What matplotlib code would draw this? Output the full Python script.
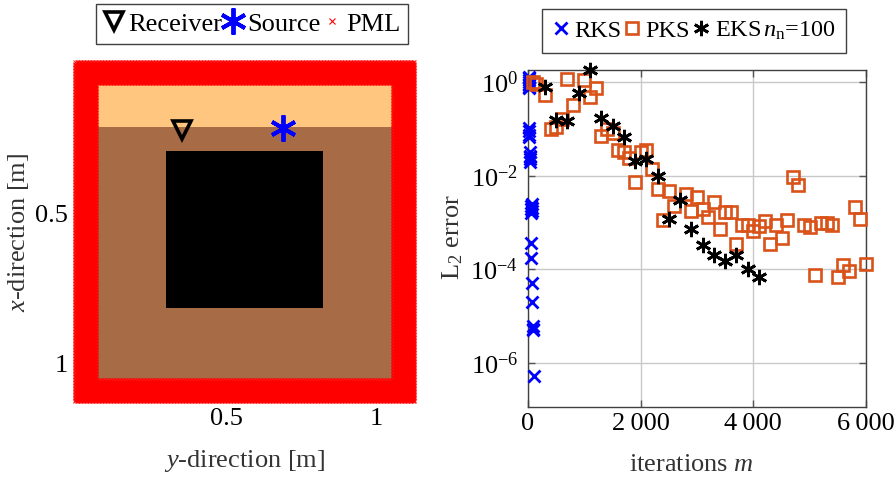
import numpy as np
import matplotlib
matplotlib.use('Agg')
import matplotlib.pyplot as plt
from matplotlib.patches import Rectangle
from matplotlib.lines import Line2D

plt.rcParams['font.family'] = ['Liberation Serif', 'DejaVu Serif']
plt.rcParams['mathtext.fontset'] = 'custom'
plt.rcParams['mathtext.rm'] = 'Liberation Serif'
plt.rcParams['mathtext.it'] = 'Liberation Serif:italic'
plt.rcParams['font.size'] = 19

# left panel geometry, in metres
outer_lo, outer_hi_x, outer_hi_y = -0.002, 1.131, 1.131
inner_x = [0.073, 1.057]
inner_y = [0.073, 1.053]
layer_depth = 0.213
scatterer_x = [0.30, 0.823]
scatterer_y = [0.293, 0.817]
receiver_yx = [0.353, 0.223]
source_yx = [0.69, 0.217]

# right panel data, values are log10 of the error
rks_m = [20, 20, 20, 20, 20, 20, 20, 20, 20, 20, 20, 20, 40, 40, 40, 40, 40,
         60, 60, 60, 70, 70, 70, 60, 60, 70, 70, 80, 80, 90, 100]
rks_log = [0.12, 0.08, 0.04, 0.0, -0.03, -0.06, -0.1, -0.13, -1.05, -1.12, -1.18, -0.98,
           -1.5, -1.6, -1.7, -1.57, -1.65, -2.65, -2.72, -2.8, -2.68, -2.75, -2.6,
           -3.43, -3.75, -4.3, -4.7, -5.2, -5.3, -5.27, -6.28]
pks_m = [80, 150, 300, 400, 500, 600, 700, 800, 1000, 1100, 1200, 1300, 1400, 1500, 1600,
         1700, 1800, 1900, 2000, 2100, 2200, 2300, 2400, 2500, 2600, 2800, 2900, 3000,
         3100, 3200, 3300, 3400, 3500, 3600, 3700, 3800, 3900, 4000, 4100, 4200, 4300,
         4400, 4500, 4600, 4700, 4800, 4900, 5000, 5100, 5200, 5300, 5400, 5500, 5600,
         5700, 5800, 5900, 6000]
pks_log = [0.0, -0.04, -0.28, -1.0, -0.95, -0.78, 0.06, -0.48, 0.05, -0.31, -0.13, -1.15,
           -1.0, -1.08, -1.44, -1.49, -1.61, -2.13, -1.49, -1.44, -1.85, -2.28, -2.95,
           -2.32, -2.65, -2.38, -2.75, -2.45, -2.72, -2.88, -2.55, -3.13, -2.78, -2.78,
           -3.46, -3.06, -3.06, -3.17, -3.08, -2.97, -3.45, -3.06, -3.32, -2.95, -2.03,
           -2.19, -3.06, -3.09, -4.12, -3.01, -3.01, -3.05, -4.17, -3.91, -4.03, -2.67,
           -2.92, -3.88]
eks_m = [300, 500, 700, 900, 1100, 1300, 1500, 1700, 1900, 2100, 2300, 2500, 2700, 2900,
         3100, 3300, 3500, 3700, 3900, 4100]
eks_log = [-0.11, -0.8, -0.83, -0.23, 0.25, -0.76, -0.93, -1.18, -1.69, -1.64, -2.01,
           -2.93, -2.52, -3.14, -3.47, -3.7, -3.83, -3.7, -4.0, -4.16]

x_ticks = [0, 2000, 4000, 6000]
x_tick_labels = ['0', '2\u2009000', '4\u2009000', '6\u2009000']
y_ticks = [1e0, 1e-2, 1e-4, 1e-6]

W, H = 896, 480
pks_color = '#D95319'
frame_color = '#404040'
label_color = '#333333'


def px_axes(fig, x0, y0, x1, y1):
    return fig.add_axes([x0 / W, 1 - y1 / H, (x1 - x0) / W, (y1 - y0) / H])


fig = plt.figure(figsize=(8.96, 4.8), dpi=100)

# geometry
ax1 = px_axes(fig, 60, 50, 430, 415)
ax1.set_xlim((60 - 76) / 300, (430 - 76) / 300)
ax1.set_ylim((415 - 63) / 300, (50 - 63) / 300)
ax1.add_patch(Rectangle((inner_x[0], inner_y[0]), inner_x[1] - inner_x[0], inner_y[1] - inner_y[0],
                        facecolor='#A76B45', edgecolor='none', zorder=1))
ax1.add_patch(Rectangle((inner_x[0], inner_y[0]), inner_x[1] - inner_x[0], layer_depth - inner_y[0],
                        facecolor='#FFC680', edgecolor='none', zorder=2))
ax1.add_patch(Rectangle((scatterer_x[0], scatterer_y[0]), scatterer_x[1] - scatterer_x[0],
                        scatterer_y[1] - scatterer_y[0], facecolor='black', edgecolor='none', zorder=3))

gx, gy = np.meshgrid(np.arange(outer_lo, outer_hi_x + 0.001, 0.005),
                     np.arange(outer_lo, outer_hi_y + 0.001, 0.005))
in_pml = (gx < inner_x[0]) | (gx > inner_x[1]) | (gy < inner_y[0]) | (gy > inner_y[1])
ax1.plot(gx[in_pml], gy[in_pml], 'x', color='red', ms=2.5, mew=0.6, zorder=4)

ax1.plot(receiver_yx[0], receiver_yx[1], 'v', mfc='none', mec='black', ms=13, mew=2.6, zorder=5)
ax1.plot(source_yx[0], source_yx[1], marker=(6, 2, 0), color='blue', ms=19, mew=2.8, zorder=5)

ax1.set_xticks([0.5, 1], ['0.5', '1'])
ax1.set_yticks([0.5, 1], ['0.5', '1'])
ax1.tick_params(length=0)
ax1.tick_params(axis='x', pad=-5)
ax1.tick_params(axis='y', pad=-6)
for s in ax1.spines.values():
    s.set_visible(False)
ax1.set_xlabel(r'$y$-direction [m]', color=label_color)
ax1.xaxis.set_label_coords((245 - 60) / 370, -(448 - 415) / 365)
ax1.set_ylabel(r'$x$-direction [m]', color=label_color)
ax1.yaxis.set_label_coords((31 - 60) / 370, (415 - 232) / 365)

handles1 = [Line2D([], [], ls='', marker='v', mfc='none', mec='black', ms=13, mew=2.6),
            Line2D([], [], ls='', marker=(6, 2, 0), color='blue', ms=19, mew=2.8),
            Line2D([], [], ls='', marker='x', color='red', ms=5, mew=0.8)]
fig.legend(handles1, ['Receiver', 'Source', 'PML'], ncol=3, loc='center',
           bbox_to_anchor=(252 / W, 1 - 24 / H), fancybox=False, framealpha=1, edgecolor=frame_color,
           handletextpad=0.15, columnspacing=0.0, handlelength=0.8, borderpad=0.3, borderaxespad=0)

# convergence
ax2 = px_axes(fig, 528, 70, 866, 407)
ax2.set_yscale('log')
ax2.set_xlim(0, 6000)
ax2.set_ylim(10 ** -6.94, 10 ** 0.26)
ax2.grid(True, color='#C8C8C8', lw=1)
ax2.set_axisbelow(True)
ax2.plot(rks_m, 10.0 ** np.array(rks_log), 'x', color='blue', ms=8.5, mew=2, clip_on=False, zorder=3)
ax2.plot(pks_m, 10.0 ** np.array(pks_log), 's', mfc='none', mec=pks_color, ms=8.2, mew=1.9,
         clip_on=False, zorder=4)
ax2.plot(eks_m, 10.0 ** np.array(eks_log), marker=(6, 2, 0), ls='', color='black', ms=11, mew=2,
         clip_on=False, zorder=5)
ax2.set_xticks(x_ticks, x_tick_labels)
ax2.set_yticks(y_ticks, [r'$10^{0}$', r'$10^{-2}$', r'$10^{-4}$', r'$10^{-6}$'])
ax2.minorticks_off()
ax2.tick_params(direction='in', top=True, right=True, length=5, width=1, color='#555555')
ax2.tick_params(axis='x', pad=4)
ax2.tick_params(axis='y', pad=7)
for s in ax2.spines.values():
    s.set_color(frame_color)
    s.set_linewidth(1)
ax2.set_xlabel(r'iterations $m$', color=label_color)
ax2.xaxis.set_label_coords(163 / 338, -(454 - 407) / 337)
ax2.set_ylabel(r'L$_2$ error', color=label_color)
ax2.yaxis.set_label_coords((465 - 528) / 338, (407 - 237) / 337)

handles2 = [Line2D([], [], ls='', marker='x', color='blue', ms=8.5, mew=2),
            Line2D([], [], ls='', marker='s', mfc='none', mec=pks_color, ms=8.2, mew=1.9),
            Line2D([], [], ls='', marker=(6, 2, 0), color='black', ms=11, mew=2)]
fig.legend(handles2, ['RKS', 'PKS', r'EKS$\,n_{\mathrm{n}}$=100'], ncol=3, loc='center',
           bbox_to_anchor=(694 / W, 1 - 31 / H), fancybox=False, framealpha=1, edgecolor=frame_color,
           fontsize=17.5, handletextpad=0.2, columnspacing=0.1, handlelength=0.7, borderpad=0.45, borderaxespad=0)

fig.savefig('out.png', dpi=100)
